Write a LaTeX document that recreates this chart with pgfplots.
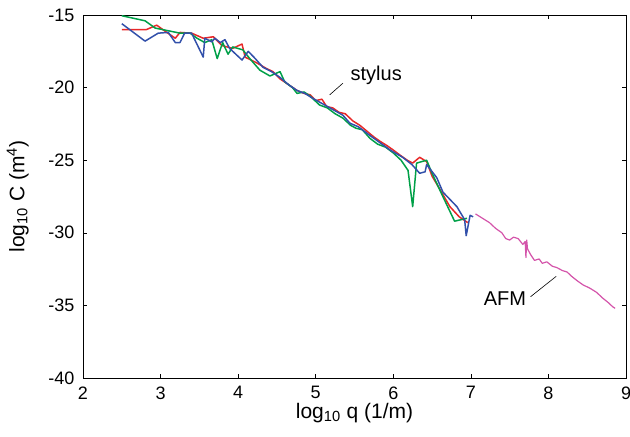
\documentclass[border=0pt]{standalone}
\usepackage{pgfplots}
\pgfplotsset{compat=1.18}
\usepackage{fontspec}
\setmainfont{Liberation Sans}
\definecolor{cred}{RGB}{232,40,40}
\definecolor{cgreen}{RGB}{0,160,72}
\definecolor{cblue}{RGB}{50,80,170}
\definecolor{cpink}{RGB}{212,84,170}
\begin{document}
\begin{tikzpicture}
\begin{axis}[
  scale only axis,
  width=543bp, height=363bp,
  xmin=2, xmax=9, ymin=-40, ymax=-15,
  xtick={2,3,...,9}, ytick={-40,-35,...,-15},
  tick align=inside,
  major tick length=4bp,
  tick style={black, line width=0.6pt},
  axis line style={black, line width=0.8pt},
  /pgf/number format/assume math mode=true,
  tick label style={font=\fontsize{18bp}{21bp}\selectfont},
  yticklabel style={xshift=-5bp},
  xticklabel style={yshift=-5bp},
  label style={font=\fontsize{21bp}{24bp}\selectfont},
  xlabel={log\textsubscript{10} q (1/m)},
  ylabel={log\textsubscript{10} C (m\textsuperscript{4})},
  ylabel shift=13bp,
  xlabel shift=-3bp,
  every axis plot/.append style={line width=1.5pt, line join=round},
]
\addplot[cred] coordinates {
(2.50,-16.0) (2.82,-16.0) (2.95,-15.7) (3.08,-16.2) (3.19,-16.6) (3.25,-16.2) (3.40,-16.25) (3.55,-16.6) (3.68,-16.5) (3.79,-17.1) (3.93,-17.3) (4.05,-17.0) (4.09,-17.9) (4.24,-18.3) (4.37,-18.7) (4.45,-18.9) (4.54,-19.4) (4.65,-19.8) (4.76,-20.2) (4.85,-20.4) (4.93,-20.5) (5.00,-20.9) (5.08,-20.8) (5.14,-21.3) (5.22,-21.4) (5.30,-21.7) (5.38,-21.8) (5.48,-22.3) (5.57,-22.6) (5.66,-23.0) (5.75,-23.4) (5.83,-23.7) (5.92,-24.0) (6.00,-24.3) (6.10,-24.7) (6.18,-25.0) (6.25,-25.2) (6.34,-24.8) (6.43,-25.1) (6.50,-26.1) (6.60,-27.0) (6.73,-28.2) (6.85,-28.9) (6.96,-29.3)
};
\addplot[cgreen] coordinates {
(2.50,-15.05) (2.80,-15.4) (2.93,-15.9) (3.25,-16.25) (3.38,-16.25) (3.47,-16.6) (3.57,-16.9) (3.66,-16.7) (3.73,-18.0) (3.80,-16.9) (3.87,-17.7) (3.93,-17.2) (4.06,-17.4) (4.15,-18.0) (4.28,-18.8) (4.41,-19.2) (4.54,-18.9) (4.60,-19.6) (4.70,-20.0) (4.76,-20.4) (4.85,-20.3) (4.93,-20.6) (5.05,-21.2) (5.15,-21.4) (5.25,-21.8) (5.35,-22.1) (5.45,-22.6) (5.52,-22.8) (5.60,-22.9) (5.70,-23.5) (5.80,-23.9) (5.90,-24.1) (6.00,-24.5) (6.10,-25.0) (6.19,-25.7) (6.25,-28.2) (6.30,-25.2) (6.43,-25.0) (6.50,-25.9) (6.63,-27.4) (6.79,-29.2) (6.95,-29.0)
};
\addplot[cblue] coordinates {
(2.50,-15.6) (2.80,-16.8) (2.97,-16.25) (3.10,-16.2) (3.19,-16.9) (3.25,-16.9) (3.31,-16.25) (3.40,-16.25) (3.55,-17.9) (3.57,-16.6) (3.66,-16.85) (3.70,-16.6) (3.77,-16.9) (3.83,-16.7) (3.89,-17.3) (4.05,-18.1) (4.13,-17.5) (4.22,-18.0) (4.32,-18.6) (4.43,-18.9) (4.54,-19.3) (4.65,-19.8) (4.76,-20.2) (4.86,-20.4) (4.95,-20.7) (5.05,-21.0) (5.15,-21.3) (5.25,-21.6) (5.35,-21.9) (5.44,-22.45) (5.55,-22.7) (5.70,-23.3) (5.83,-23.8) (5.96,-24.3) (6.12,-24.8) (6.24,-25.3) (6.34,-25.9) (6.41,-25.8) (6.43,-25.3) (6.56,-26.2) (6.64,-27.2) (6.82,-28.2) (6.92,-29.1) (6.94,-30.2) (6.99,-28.8) (7.03,-28.9)
};
\addplot[cpink, line width=1.2pt] coordinates {
(7.06,-28.7) (7.15,-29.0) (7.24,-29.3) (7.32,-29.7) (7.40,-30.0) (7.45,-30.4) (7.50,-30.5) (7.55,-30.3) (7.61,-30.4) (7.67,-30.8) (7.70,-30.6) (7.71,-31.7) (7.72,-30.5) (7.73,-31.1) (7.77,-31.5) (7.82,-31.9) (7.88,-31.8) (7.92,-32.1) (7.98,-32.0) (8.05,-32.3) (8.11,-32.4) (8.18,-32.6) (8.24,-32.7) (8.30,-33.0) (8.37,-33.3) (8.45,-33.6) (8.53,-33.8) (8.62,-34.1) (8.70,-34.5) (8.77,-34.8) (8.83,-35.1) (8.86,-35.2)
};
\draw[black, line width=0.6pt] (axis cs:5.18,-20.5) -- (axis cs:5.35,-19.7);
\node[font=\fontsize{20bp}{24bp}\selectfont] at (axis cs:5.78,-19.13) {stylus};
\draw[black, line width=0.6pt] (axis cs:7.77,-34.4) -- (axis cs:8.10,-33.0);
\node[font=\fontsize{20bp}{24bp}\selectfont] at (axis cs:7.44,-34.5) {AFM};
\coordinate (SW) at (rel axis cs:0,0);
\coordinate (NE) at (rel axis cs:1,1);
\end{axis}
\pgfresetboundingbox
\path[use as bounding box] ([xshift=-83bp,yshift=-58bp]SW) rectangle ([xshift=4bp,yshift=15bp]NE);
\end{tikzpicture}
\end{document}
